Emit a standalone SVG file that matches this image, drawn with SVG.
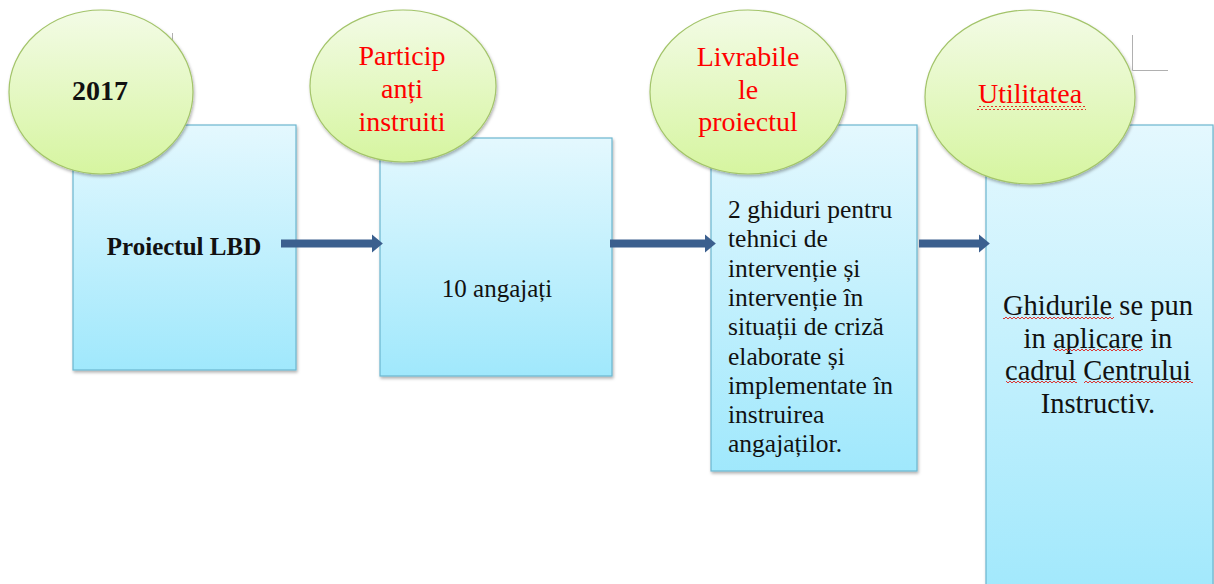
<svg xmlns="http://www.w3.org/2000/svg" width="1214" height="584" viewBox="0 0 1214 584">
<defs>
<linearGradient id="boxG" x1="0" y1="0" x2="0" y2="1">
<stop offset="0" stop-color="#e4f8fe"/>
<stop offset="1" stop-color="#a0e8fc"/>
</linearGradient>
<linearGradient id="ellG" x1="0" y1="0" x2="0" y2="1">
<stop offset="0" stop-color="#f3fbe6"/>
<stop offset="1" stop-color="#d6f5a0"/>
</linearGradient>
<filter id="sh" x="-10%" y="-10%" width="125%" height="125%">
<feDropShadow dx="1" dy="2" stdDeviation="1.5" flood-color="#000" flood-opacity="0.3"/>
</filter>
<pattern id="wave" width="4" height="4" patternUnits="userSpaceOnUse">
<path d="M0,3 L2,1 L4,3" fill="none" stroke="#e0201a" stroke-width="0.9"/>
</pattern>
<marker id="ah" viewBox="0 0 10 10" refX="3" refY="5" markerWidth="1.4" markerHeight="2.3" orient="auto" markerUnits="strokeWidth" preserveAspectRatio="none">
<path d="M0,0 L10,5 L0,10 Z" fill="#3b5f8e"/>
</marker>
</defs>
<style>
.box{fill:url(#boxG);stroke:#6cb6cf;stroke-width:1.2;filter:url(#sh)}
.ell{fill:url(#ellG);stroke:#a3c46a;stroke-width:1.2;filter:url(#sh)}
.t{font-family:"Liberation Serif","Times New Roman",serif;fill:#111}
.r{font-family:"Liberation Serif","Times New Roman",serif;fill:#ff0000;font-size:28px;text-anchor:middle}
.c{stroke:#3b5f8e;stroke-width:8;fill:none}
.wv{fill:url(#wave)}
.mark{stroke:#b0b0b0;stroke-width:1;fill:none}
</style>
<path class="mark" d="M172.5,33 V42"/>
<path class="mark" d="M1132.5,35 V70.5 H1168"/>
<g id="box1"><rect class="box" x="73" y="125" width="223" height="245"/>
<text class="t" x="184" y="255" font-size="25" font-weight="bold" text-anchor="middle">Proiectul LBD</text></g>
<g id="box2"><rect class="box" x="380" y="138" width="232" height="238"/>
<text class="t" x="497" y="297" font-size="25" text-anchor="middle">10 angajați</text></g>
<g id="box3"><rect class="box" x="711" y="125" width="206" height="346"/>
<text class="t" font-size="25.5"><tspan x="728" y="218">2 ghiduri pentru</tspan><tspan x="728" y="247.3">tehnici de</tspan><tspan x="728" y="276.6">intervenție și</tspan><tspan x="728" y="305.9">intervenție în</tspan><tspan x="728" y="335.2">situații de criză</tspan><tspan x="728" y="364.5">elaborate și</tspan><tspan x="728" y="393.8">implementate în</tspan><tspan x="728" y="423.1">instruirea</tspan><tspan x="728" y="452.4">angajaților.</tspan></text></g>
<g id="box4"><rect class="box" x="986" y="125" width="227" height="480"/>
<text class="t" font-size="28.5" text-anchor="middle"><tspan x="1098" y="315">Ghidurile se pun</tspan><tspan x="1098" y="348">in aplicare in</tspan><tspan x="1098" y="380">cadrul Centrului</tspan><tspan x="1098" y="413">Instructiv.</tspan></text>
<rect class="wv" x="1003" y="316" width="111" height="4"/>
<rect class="wv" x="1053" y="349" width="90" height="4"/>
<rect class="wv" x="1006" y="381" width="71" height="4"/>
<rect class="wv" x="1084" y="381" width="109" height="4"/></g>
<g id="connectors">
<path class="c" d="M281,243.5 H375" marker-end="url(#ah)"/>
<path class="c" d="M610,243.5 H708" marker-end="url(#ah)"/>
<path class="c" d="M919,243.5 H982" marker-end="url(#ah)"/>
</g>
<g id="ell1"><ellipse class="ell" cx="101" cy="92" rx="92" ry="82"/>
<text class="t" x="100" y="100" font-size="28" font-weight="bold" text-anchor="middle">2017</text></g>
<g id="ell2"><ellipse class="ell" cx="403" cy="86" rx="93" ry="76"/>
<text class="r"><tspan x="402" y="65">Particip</tspan><tspan x="402" y="98">anți</tspan><tspan x="402" y="131">instruiti</tspan></text></g>
<g id="ell3"><ellipse class="ell" cx="748" cy="92" rx="98" ry="82"/>
<text class="r"><tspan x="748" y="66">Livrabile</tspan><tspan x="748" y="99">le</tspan><tspan x="748" y="131">proiectul</tspan></text></g>
<g id="ell4"><ellipse class="ell" cx="1030" cy="97" rx="105" ry="87"/>
<text class="r" x="1030" y="103">Utilitatea</text>
<rect class="wv" x="977" y="106" width="109" height="4"/></g>
</svg>
